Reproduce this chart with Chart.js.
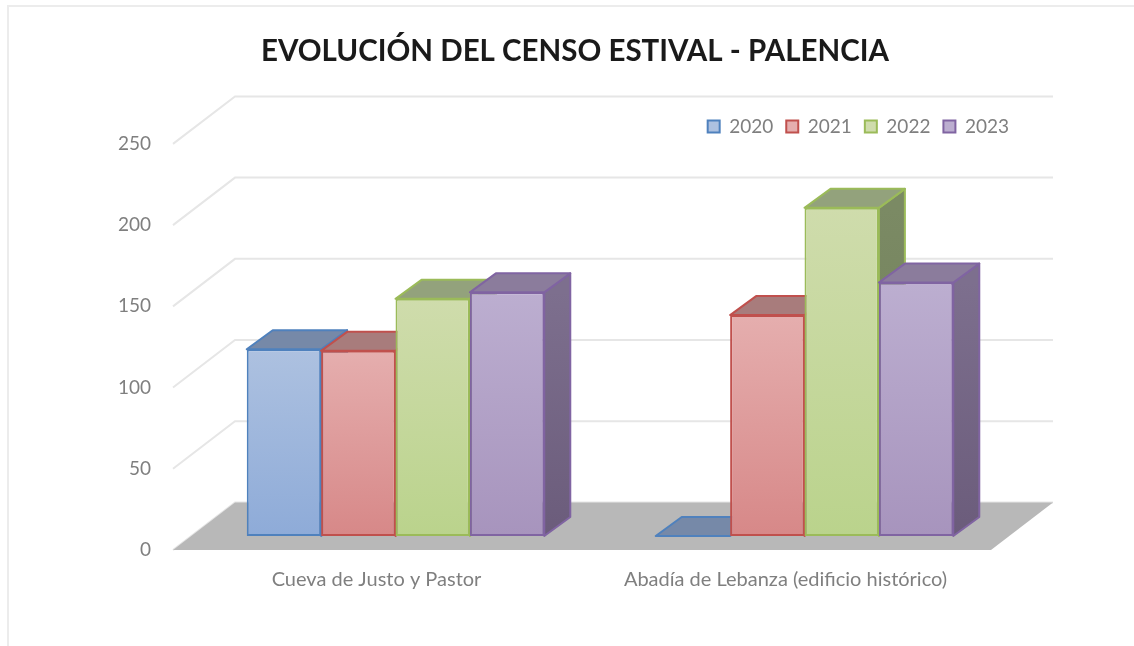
<!DOCTYPE html>
<html lang="es">
<head>
<meta charset="utf-8">
<title>Evolución del censo estival - Palencia</title>
<script src="https://cdn.jsdelivr.net/npm/chart.js@4/dist/chart.umd.min.js"></script>
<style>
  html, body { margin: 0; padding: 0; background: #fff; }
  canvas { display: block; }
</style>
</head>
<body>
<canvas id="censoChart" width="1134" height="646"></canvas>
<script>
const categories = ['Cueva de Justo y Pastor', 'Abadía de Lebanza (edificio histórico)'];
const years = ['2020', '2021', '2022', '2023'];
const values2020 = [115, 0];
const values2021 = [114, 136];
const values2022 = [146, 202];
const values2023 = [150, 156];
const seriesValues = [values2020, values2021, values2022, values2023];

const borderColors = ['#4f81bd', '#c0504d', '#9bbb59', '#8064a2'];
const faceTopColors = ['#adc1e0', '#e5aeae', '#cfdcac', '#bcaed0'];
const faceBottomColors = ['#8eabd8', '#d78888', '#bad38c', '#a794bd'];
const capColors = ['#7689a8', '#a87c7c', '#93a27c', '#8b7c9c'];
const sideTopColors = ['#6f819e', '#9c7272', '#7b8a64', '#7d6f8e'];
const sideBottomColors = ['#60718e', '#8c6262', '#6f7d58', '#6b5c7b'];

// depth of one bar, and how far the floor reaches in front of and behind the bars
const barDepth = { x: 26, y: -19 };
const floorFront = { x: -18, y: 14 };
const floorBack = { x: 44, y: -33.5 };

function poly(ctx, pts) {
  ctx.beginPath();
  pts.forEach((p, i) => (i ? ctx.lineTo(p[0], p[1]) : ctx.moveTo(p[0], p[1])));
  ctx.closePath();
}

// Walls, floor and bar sides. Bars are painted left to right so each covers its neighbour's side.
const box3d = {
  id: 'box3d',
  beforeDraw(chart) {
    const ctx = chart.ctx;
    ctx.save();
    ctx.strokeStyle = '#ececec';
    ctx.lineWidth = 2;
    ctx.beginPath();
    ctx.moveTo(8, 646);
    ctx.lineTo(8, 6);
    ctx.lineTo(1134, 6);
    ctx.stroke();
    ctx.restore();
    // title is centred over the floor, legend sits inside the plot over the back wall
    chart.titleBlock.left = 140;
    chart.titleBlock.right = 1010;
    chart.legend.left = 140;
    chart.legend.right = 1022;
    chart.legend.top = 104;
    chart.legend.bottom = 164;
  },
  beforeDatasetsDraw(chart) {
    const ctx = chart.ctx;
    const area = chart.chartArea;
    const yScale = chart.scales.y;
    const l = area.left, r = area.right;

    ctx.save();
    ctx.strokeStyle = '#e6e6e6';
    ctx.lineWidth = 2;
    yScale.ticks.forEach(t => {
      const y = yScale.getPixelForValue(t.value);
      ctx.beginPath();
      ctx.moveTo(l + floorFront.x, y + floorFront.y);
      ctx.lineTo(l + floorBack.x, y + floorBack.y);
      ctx.lineTo(r + floorBack.x, y + floorBack.y);
      ctx.stroke();
    });
    const y0 = yScale.getPixelForValue(0);
    ctx.fillStyle = '#b8b8b8';
    poly(ctx, [
      [l + floorFront.x, y0 + floorFront.y],
      [l + floorBack.x, y0 + floorBack.y],
      [r + floorBack.x, y0 + floorBack.y],
      [r + floorFront.x, y0 + floorFront.y]
    ]);
    ctx.fill();

    chart.data.datasets.forEach((ds, d) => {
      chart.getDatasetMeta(d).data.forEach(bar => {
        const left = bar.x - bar.width / 2;
        const right = bar.x + bar.width / 2;
        const top = bar.y, base = bar.base;
        const dx = barDepth.x, dy = barDepth.y;
        ctx.lineJoin = 'round';
        ctx.lineWidth = 2;
        ctx.strokeStyle = borderColors[d];
        if (base - top > 0) {
          const g = ctx.createLinearGradient(0, top, 0, base);
          g.addColorStop(0, sideTopColors[d]);
          g.addColorStop(1, sideBottomColors[d]);
          ctx.fillStyle = g;
          poly(ctx, [[right, top], [right + dx, top + dy], [right + dx, base + dy], [right, base]]);
          ctx.fill();
          ctx.stroke();
        }
        ctx.fillStyle = capColors[d];
        poly(ctx, [[left, top], [left + dx, top + dy], [right + dx, top + dy], [right, top]]);
        ctx.fill();
        ctx.stroke();
        bar.draw(ctx, area);
      });
    });
    ctx.restore();
    return false;
  }
};

new Chart(document.getElementById('censoChart').getContext('2d'), {
  type: 'bar',
  data: {
    labels: categories,
    datasets: years.map((year, i) => ({
      label: year,
      data: seriesValues[i],
      borderColor: borderColors[i],
      borderWidth: 2,
      borderSkipped: false,
      backgroundColor(c) {
        if (c.type !== 'data' || !c.chart.chartArea) return faceBottomColors[i];
        const yScale = c.chart.scales.y;
        const g = c.chart.ctx.createLinearGradient(0, yScale.getPixelForValue(c.parsed.y), 0, yScale.getPixelForValue(0));
        g.addColorStop(0, faceTopColors[i]);
        g.addColorStop(1, faceBottomColors[i]);
        return g;
      }
    }))
  },
  options: {
    responsive: false,
    animation: false,
    categoryPercentage: 0.7275,
    barPercentage: 1,
    layout: { padding: { left: 60, right: 125, top: 0, bottom: 0 } },
    plugins: {
      title: {
        display: true,
        text: 'EVOLUCIÓN DEL CENSO ESTIVAL - PALENCIA',
        color: '#1a1a1a',
        font: { family: 'Lato', size: 29.5, weight: 'bold', lineHeight: 1.2 },
        padding: { top: 34, bottom: 18.5 }
      },
      legend: {
        position: 'top',
        align: 'end',
        labels: {
          boxWidth: 12,
          boxHeight: 12,
          padding: 13,
          color: '#7f7f7f',
          font: { family: 'Lato', size: 19 }
        }
      },
      tooltip: { enabled: false }
    },
    scales: {
      x: {
        grid: { display: false },
        border: { display: false },
        afterFit(scale) { scale.height = 110; },
        ticks: {
          color: '#7f7f7f',
          padding: 24,
          labelOffset: -19,
          maxRotation: 0,
          font: { family: 'Lato', size: 20 }
        }
      },
      y: {
        min: 0,
        max: 250,
        grid: { display: false, drawTicks: false },
        border: { display: false },
        afterFit(scale) { scale.width = 131; },
        ticks: {
          stepSize: 50,
          color: '#7f7f7f',
          padding: 40,
          labelOffset: 14,
          font: { family: 'Lato', size: 19 }
        }
      }
    }
  },
  plugins: [box3d]
});
</script>
</body>
</html>
